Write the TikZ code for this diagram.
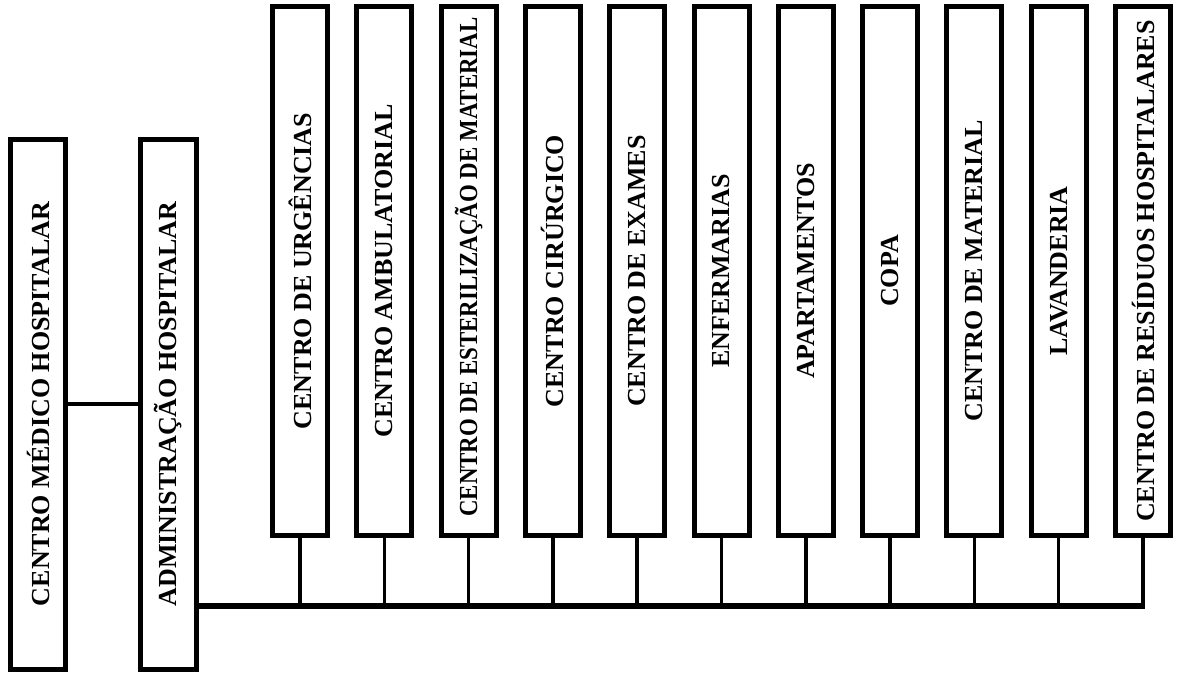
\documentclass[tikz,border=0pt]{standalone}
\usepackage{fontspec}
\setmainfont{Liberation Serif}
\begin{document}
\begin{tikzpicture}[x=1pt,y=-1pt,
  box/.style={draw=black, line width=5pt, rotate=90, minimum height=55pt,
    inner sep=0pt, fill=white, font=\fontsize{26}{28}\selectfont\bfseries},
  topbox/.style={box, minimum width=529pt},
  sidebox/.style={box, minimum width=530pt},
  drop/.style={draw=black, line width=3.5pt},
  bus/.style={draw=black, line width=5.5pt},
  link/.style={draw=black, line width=4pt}]
\fill[white] (0,0) rectangle (1184,680);
\useasboundingbox (0,0) rectangle (1184,680);

% left column
\node[sidebox] (cmh) at (38,404) {CENTRO MÉDICO HOSPITALAR};
\node[sidebox, minimum height=56pt] (adm) at (168.5,404) {ADMINISTRAÇÃO HOSPITALAR};

% top row
\node[topbox] (b1)  at (300.0,271) {CENTRO DE URGÊNCIAS};
\node[topbox] (b2)  at (384.3,271) {CENTRO AMBULATORIAL};
\node[topbox] (b3)  at (468.6,271) {\hspace*{8pt}\scalebox{0.88}[1]{CENTRO DE ESTERILIZAÇÃO DE MATERIAL}};
\node[topbox] (b4)  at (552.9,271) {CENTRO CIRÚRGICO};
\node[topbox] (b5)  at (637.2,271) {CENTRO DE EXAMES};
\node[topbox] (b6)  at (721.5,271) {ENFERMARIAS};
\node[topbox] (b7)  at (805.8,271) {APARTAMENTOS};
\node[topbox] (b8)  at (890.1,271) {COPA};
\node[topbox] (b9)  at (974.4,271) {CENTRO DE MATERIAL};
\node[topbox] (b10) at (1058.7,271) {LAVANDERIA};
\node[topbox] (b11) at (1143.0,271) {CENTRO DE RESÍDUOS HOSPITALARES};

% connectors
\draw[link] (cmh.south) -- (adm.north);
\coordinate (busy) at (600,606);
\foreach \b in {b1,b2,b3,b4,b5,b6,b7,b8,b9,b10,b11}{
  \draw[drop] (\b.west) -- (\b.west |- busy);
}
\draw[bus] (adm.south |- busy) -- ([xshift=1.75pt]b11.west |- busy);
\end{tikzpicture}
\end{document}
